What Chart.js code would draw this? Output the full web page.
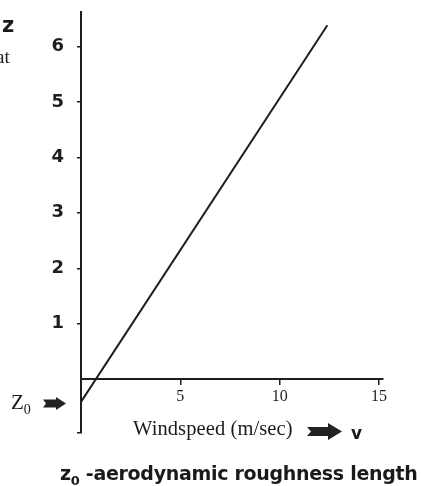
<!DOCTYPE html>
<html>
<head>
<meta charset="utf-8">
<script src="https://cdn.jsdelivr.net/npm/chart.js@4"></script>
<style>
  html, body { margin: 0; padding: 0; background: #fff; }
  #wrap { position: relative; width: 421px; height: 486px; overflow: hidden; }
  #c { position: absolute; left: 0; top: 0; }
  .lbl { position: absolute; white-space: nowrap; color: #1a1a1a; line-height: 1; }
  .arrow { position: absolute; }
</style>
</head>
<body>
<div id="wrap">
  <canvas id="c" width="421" height="486"></canvas>

  <div class="lbl" style="left:2px; top:13px; font:bold 21px 'DejaVu Sans';">z</div>
  <div class="lbl" style="left:-4px; top:46px; font:19px 'Liberation Serif';">at</div>

  <div class="lbl" style="left:11px; top:390px; font:21px 'Liberation Serif';">Z<sub style="font-size:14px; vertical-align:-5px;">0</sub></div>
  <svg class="arrow" style="left:43px; top:397px;" width="23" height="13" viewBox="0 0 23 13">
    <polygon points="0,2.5 3,6.5 0,10.5 13,10.5 13,13 23,6.5 13,0 13,2.5" fill="#222"/>
  </svg>

  <div class="lbl" style="left:133px; top:417px; font:20.5px 'Liberation Serif'; letter-spacing:0.1px;">Windspeed (m/sec)</div>
  <svg class="arrow" style="left:307px; top:423px;" width="35" height="17" viewBox="0 0 35 17">
    <polygon points="0,4 4,8.5 0,13 21,13 21,17 35,8.5 21,0 21,4" fill="#222"/>
  </svg>
  <div class="lbl" style="left:351px; top:423px; font:bold 17px 'DejaVu Sans';">v</div>

  <div class="lbl" style="left:60px; top:462px; font:bold 19px 'DejaVu Sans'; letter-spacing:-0.3px;">z<sub style="font-size:13px; vertical-align:-5px;">0</sub> -aerodynamic roughness length</div>
</div>

<script>
// wind profile
const windLine = [
  { x: 0, y: -0.41 },
  { x: 12.4, y: 6.38 },
];
const xTicks = [5, 10, 15];
const yTicks = [1, 2, 3, 4, 5, 6];

const ink = "#1e1e1e";
const Y_MIN = -0.97;

new Chart(document.getElementById("c"), {
  type: "line",
  data: {
    datasets: [
      {
        data: windLine,
        borderColor: ink,
        borderWidth: 2,
        pointRadius: 0,
        tension: 0,
        fill: false,
      },
    ],
  },
  options: {
    responsive: false,
    animation: false,
    layout: { padding: { left: 0, right: 38, top: 12, bottom: 53 } },
    plugins: { legend: { display: false }, tooltip: { enabled: false } },
    scales: {
      x: {
        type: "linear",
        min: 0,
        max: 15.2,
        position: { y: 0 },
        afterBuildTicks: (s) => { s.ticks = xTicks.map((v) => ({ value: v })); },
        ticks: {
          color: ink,
          font: { family: "'Liberation Serif'", size: 16 },
          padding: 3,
          maxRotation: 0,
        },
        grid: { drawOnChartArea: false, drawTicks: true, tickLength: 5, color: ink, lineWidth: 1.5 },
        border: { display: true, color: ink, width: 2 },
      },
      y: {
        type: "linear",
        min: Y_MIN,
        max: 6.62,
        afterBuildTicks: (s) => {
          s.ticks = [{ value: Y_MIN }].concat(yTicks.map((v) => ({ value: v })));
        },
        afterFit: (s) => {
          s.width = 81;
          s.paddingTop = 0;
          s.paddingBottom = 0;
        },
        ticks: {
          color: ink,
          font: { family: "'DejaVu Sans'", size: 18, weight: "bold" },
          padding: 13,
          callback: (v) => (v === Y_MIN ? "" : v),
        },
        grid: { drawOnChartArea: false, drawTicks: true, tickLength: 4, color: ink, lineWidth: 1.5 },
        border: { display: true, color: ink, width: 2 },
      },
    },
  },
});
</script>
</body>
</html>
